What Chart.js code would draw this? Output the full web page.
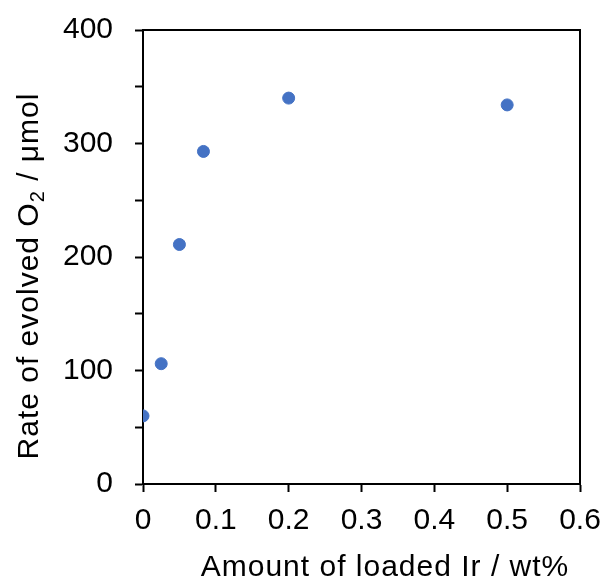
<!DOCTYPE html>
<html>
<head>
<meta charset="utf-8">
<script src="https://cdn.jsdelivr.net/npm/chart.js@4"></script>
<style>
  html, body { margin: 0; padding: 0; background: white; }
  #wrap { width: 606px; height: 581px; }
</style>
</head>
<body>
<div id="wrap"><canvas id="grafico" width="606" height="581"></canvas></div>
<script>
// datos
const cargaIr = [0, 0.025, 0.05, 0.083, 0.2, 0.5];
const tasaO2 = [60, 106, 211, 293, 340, 334];
const ticksX = [0, 0.1, 0.2, 0.3, 0.4, 0.5, 0.6];
const ticksY = [0, 50, 100, 150, 200, 250, 300, 350, 400];
const tituloX = "Amount of loaded Ir / wt%";
const tituloY = ["Rate of evolved O", "2", " / \u03bcmol"];

const fuente = "'Liberation Sans', Arial, sans-serif";

const puntos = cargaIr.map((x, i) => ({ x: x, y: tasaO2[i] }));

// marco superior/derecho y titulos de ejes
const marcoYTitulos = {
  id: "marcoYTitulos",
  afterDraw(chart) {
    const ctx = chart.ctx;
    const a = chart.chartArea;
    ctx.save();
    ctx.strokeStyle = "#000";
    ctx.lineWidth = 2;
    ctx.beginPath();
    ctx.moveTo(a.left, a.top);
    ctx.lineTo(a.right, a.top);
    ctx.lineTo(a.right, a.bottom);
    ctx.stroke();

    ctx.fillStyle = "#000";
    ctx.letterSpacing = "1px";
    ctx.font = "30px " + fuente;
    ctx.textBaseline = "alphabetic";
    ctx.textAlign = "center";
    ctx.fillText(tituloX, 385, 576);

    // titulo y con subindice
    const fChico = "20px " + fuente;
    ctx.font = "30px " + fuente;
    const w1 = ctx.measureText(tituloY[0]).width;
    const w3 = ctx.measureText(tituloY[2]).width;
    ctx.font = fChico;
    const w2 = ctx.measureText(tituloY[1]).width;
    const total = w1 + w2 + w3;
    ctx.translate(38, 276);
    ctx.rotate(-Math.PI / 2);
    ctx.textAlign = "left";
    let x0 = -total / 2;
    ctx.font = "30px " + fuente;
    ctx.fillText(tituloY[0], x0, 0);
    ctx.font = fChico;
    ctx.fillText(tituloY[1], x0 + w1, 6);
    ctx.font = "30px " + fuente;
    ctx.fillText(tituloY[2], x0 + w1 + w2, 0);
    ctx.restore();
  }
};

const sinSobrante = (s) => {
  s.paddingTop = 0;
  s.paddingBottom = 0;
  s.paddingLeft = 0;
  s.paddingRight = 0;
};

const config = {
  type: "scatter",
  data: {
    datasets: [
      {
        data: puntos,
        backgroundColor: "#4472C4",
        borderColor: "#4472C4",
        pointRadius: 6,
        pointHoverRadius: 6,
      },
    ],
  },
  options: {
    responsive: false,
    animation: false,
    layout: { padding: { top: 30, right: 26, left: 0, bottom: 0 } },
    plugins: { legend: { display: false }, tooltip: { enabled: false } },
    scales: {
      x: {
        type: "linear",
        min: 0,
        max: 0.6,
        afterBuildTicks: (s) => { s.ticks = ticksX.map((v) => ({ value: v })); },
        afterFit: (s) => { s.height = 97; sinSobrante(s); },
        border: { display: true, color: "#000", width: 2 },
        grid: { drawOnChartArea: false, drawTicks: true, tickLength: 8, tickColor: "#000", tickWidth: 2 },
        ticks: {
          color: "#000",
          font: { family: fuente, size: 30 },
          padding: 11,
          autoSkip: false,
          maxRotation: 0,
          callback: (v) => (v === 0 ? "0" : v.toFixed(1)),
        },
      },
      y: {
        min: 0,
        max: 400,
        afterBuildTicks: (s) => { s.ticks = ticksY.map((v) => ({ value: v })); },
        afterFit: (s) => { s.width = 143; sinSobrante(s); },
        border: { display: true, color: "#000", width: 2 },
        grid: { drawOnChartArea: false, drawTicks: true, tickLength: 8, tickColor: "#000", tickWidth: 2 },
        ticks: {
          color: "#000",
          font: { family: fuente, size: 30 },
          padding: 22,
          autoSkip: false,
          callback: (v) => (v % 100 === 0 ? String(v) : ""),
        },
      },
    },
  },
  plugins: [marcoYTitulos],
};

new Chart(document.getElementById("grafico"), config);
</script>
</body>
</html>
